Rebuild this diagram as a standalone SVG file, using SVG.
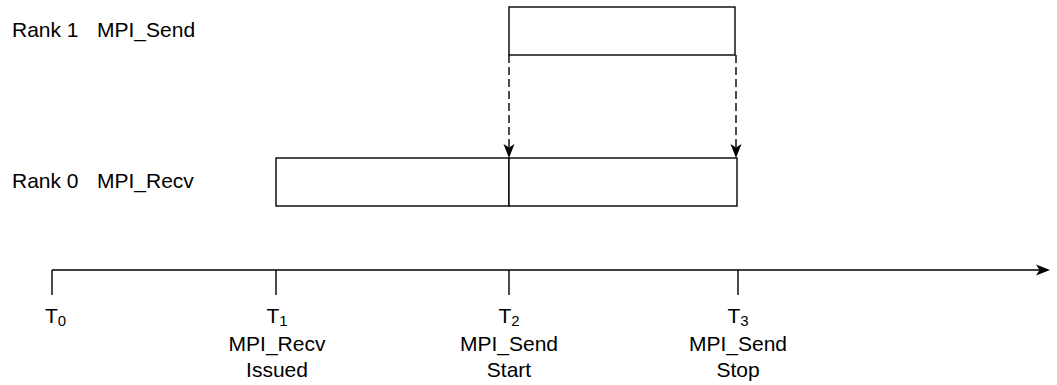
<svg xmlns="http://www.w3.org/2000/svg" width="1057" height="385" viewBox="0 0 1057 385">
<style>
text{font-family:"Liberation Sans",Arial,sans-serif;font-size:21px;fill:#000}
.c{text-anchor:middle}
.sub{font-size:15px}
.box{fill:#fff;stroke:#000;stroke-width:1.4}
.ln{stroke:#000;stroke-width:1.4;fill:none}
.dash{stroke:#000;stroke-width:1.4;fill:none;stroke-dasharray:8 4}
.head{fill:#000;stroke:none}
</style>
<rect width="1057" height="385" fill="#fff"/>
<g id="labels">
<text x="12" y="37">Rank 1</text>
<text x="97" y="37">MPI_Send</text>
<text x="12" y="188">Rank 0</text>
<text x="97" y="188">MPI_Recv</text>
</g>
<g id="send-box"><rect class="box" x="509" y="7" width="226" height="48"/></g>
<g id="recv-box">
<rect class="box" x="276" y="158" width="233" height="48"/>
<rect class="box" x="509" y="158" width="228" height="48"/>
</g>
<g id="connectors">
<path class="dash" d="M509,55 V148"/>
<path class="head" d="M509,158 L503.5,144 L509,147.5 L514.5,144 Z"/>
<path class="dash" d="M736,55 V148"/>
<path class="head" d="M736,158 L730.5,144 L736,147.5 L741.5,144 Z"/>
<path class="ln" d="M52,270 H1040"/>
<path class="head" d="M1050,270 L1036,264.5 L1039.5,270 L1036,275.5 Z"/>
<path class="ln" d="M52,270 V295 M276,270 V295 M509,270 V295 M738,270 V295"/>
</g>
<g id="t0"><text x="45" y="323">T<tspan class="sub" dy="3">0</tspan></text></g>
<g id="t1">
<text class="c" x="277" y="323">T<tspan class="sub" dy="3">1</tspan></text>
<text class="c" x="277" y="351">MPI_Recv</text>
<text class="c" x="277" y="377">Issued</text>
</g>
<g id="t2">
<text class="c" x="509" y="323">T<tspan class="sub" dy="3">2</tspan></text>
<text class="c" x="509" y="351">MPI_Send</text>
<text class="c" x="509" y="377">Start</text>
</g>
<g id="t3">
<text class="c" x="738" y="323">T<tspan class="sub" dy="3">3</tspan></text>
<text class="c" x="738" y="351">MPI_Send</text>
<text class="c" x="738" y="377">Stop</text>
</g>
</svg>
